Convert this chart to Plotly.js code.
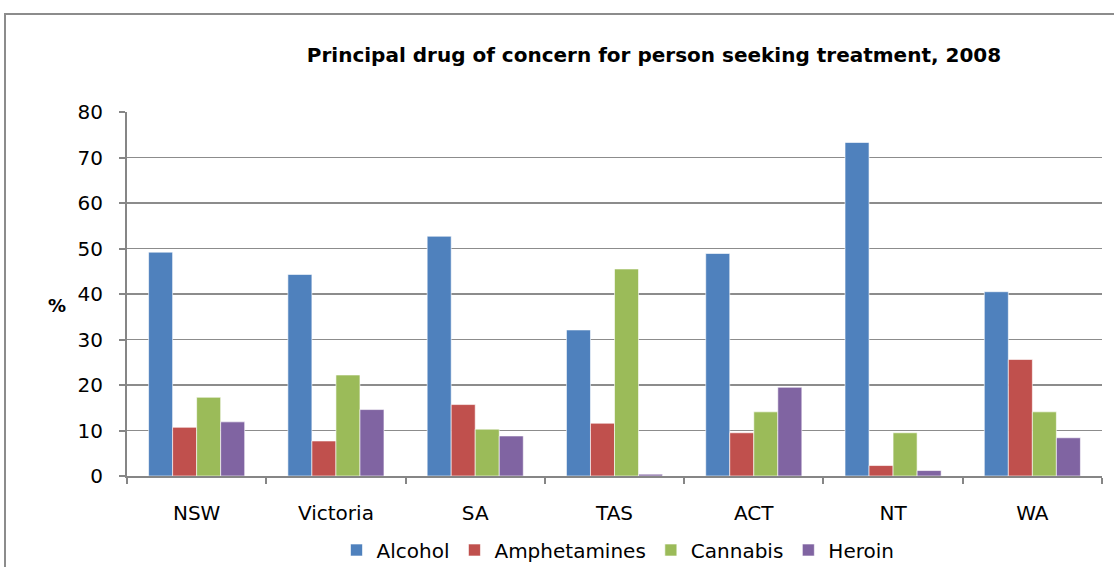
<!DOCTYPE html>
<html>
<head>
<meta charset="utf-8">
<script src="https://cdn.plot.ly/plotly-3.0.1.min.js"></script>
<style>html,body{margin:0;padding:0;background:#fff;}#chart{width:1114px;height:567px;}</style>
</head>
<body>
<div id="chart"></div>
<script>
const categories = ["NSW", "Victoria", "SA", "TAS", "ACT", "NT", "WA"];
const alcohol = [49.2, 44.3, 52.7, 32.1, 48.9, 73.3, 40.5];
const amphetamines = [10.7, 7.7, 15.7, 11.6, 9.5, 2.3, 25.6];
const cannabis = [17.3, 22.2, 10.3, 45.5, 14.1, 9.5, 14.1];
const heroin = [11.9, 14.6, 8.8, 0.4, 19.5, 1.2, 8.4];
const seriesNames = ["Alcohol", "Amphetamines", "Cannabis", "Heroin"];
const colors = ["#4f81bd", "#c0504d", "#9bbb59", "#8064a2"];
const yTicks = [0, 10, 20, 30, 40, 50, 60, 70, 80];

const seriesValues = [alcohol, amphetamines, cannabis, heroin];
const traces = seriesValues.map((vals, i) => ({
  type: "bar",
  name: seriesNames[i],
  x: categories,
  y: vals,
  marker: {color: colors[i], line: {color: "rgba(255,255,255,0.6)", width: 1}},
  hoverinfo: "x+y+name"
}));

const FONT = "DejaVu Sans, sans-serif";
const L = 127, T = 112, W = 975, H = 364;
const px = x => (x - L) / W;
const py = y => (T + H - y) / H;

const layout = {
  width: 1114, height: 567,
  margin: {l: L, r: 1114 - L - W, t: T, b: 567 - T - H, pad: 0, autoexpand: false},
  paper_bgcolor: "#ffffff",
  plot_bgcolor: "#ffffff",
  barmode: "group",
  bargap: 0.31,
  bargroupgap: 0,
  font: {family: FONT, color: "#000000", size: 20},
  title: {
    text: "<b>Principal drug of concern for person seeking treatment, 2008</b>",
    font: {family: FONT, size: 20, color: "#000000"},
    xref: "paper", x: px(654), xanchor: "center",
    yref: "container", y: 1 - 55 / 567, yanchor: "middle"
  },
  xaxis: {
    type: "category",
    showline: true, linecolor: "#868686", linewidth: 2,
    ticks: "outside", tickson: "boundaries", ticklen: 6, tickcolor: "#868686", tickwidth: 2,
    showgrid: false, zeroline: false,
    tickfont: {family: FONT, size: 20, color: "#000000"},
    ticklabelstandoff: 18
  },
  yaxis: {
    range: [0, 80], tickvals: yTicks, ticktext: yTicks.map(String),
    showline: true, linecolor: "#868686", linewidth: 2,
    ticks: "outside", ticklen: 6, tickcolor: "#868686", tickwidth: 2,
    showgrid: true, gridcolor: "#8c8c8c", gridwidth: 1.5,
    zeroline: false,
    tickfont: {family: FONT, size: 20, color: "#000000"},
    ticklabelstandoff: 12
  },
  legend: {
    orientation: "h", xref: "paper", yref: "paper",
    x: px(618), xanchor: "center", y: py(550), yanchor: "middle",
    font: {family: FONT, size: 20, color: "#000000"},
    itemwidth: 30, tracegroupgap: 0, itemclick: false
  },
  showlegend: true,
  annotations: [{
    text: "<b>%</b>", xref: "paper", yref: "paper",
    x: px(57), y: py(305), xanchor: "center", yanchor: "middle",
    showarrow: false, font: {family: FONT, size: 18, color: "#000000"}
  }],
  shapes: [{
    type: "rect", xref: "paper", yref: "paper", layer: "below",
    x0: px(5), x1: px(1125), y0: py(580), y1: py(14),
    line: {color: "#8c8c8c", width: 2}, fillcolor: "rgba(0,0,0,0)"
  }]
};

Plotly.newPlot("chart", traces, layout, {displayModeBar: false, staticPlot: true});
</script>
</body>
</html>
